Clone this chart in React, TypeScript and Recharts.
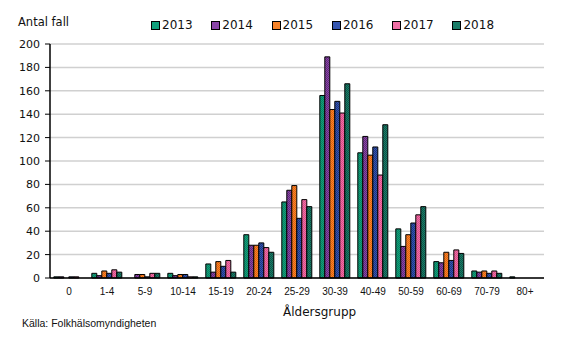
import { BarChart, Bar, XAxis, YAxis, CartesianGrid } from "recharts";

const categories = ["0", "1-4", "5-9", "10-14", "15-19", "20-24", "25-29", "30-39", "40-49", "50-59", "60-69", "70-79", "80+"];

const y2013 = [1, 4, 0, 4, 12, 37, 65, 156, 107, 42, 14, 6, 1];
const y2014 = [1, 2, 3, 2, 5, 28, 75, 189, 121, 27, 13, 5, 0];
const y2015 = [0, 6, 3, 3, 14, 28, 79, 144, 105, 37, 22, 6, 0];
const y2016 = [1, 4, 1, 3, 10, 30, 51, 151, 112, 47, 15, 4, 0];
const y2017 = [1, 7, 4, 1, 15, 26, 67, 141, 88, 54, 24, 6, 0];
const y2018 = [0, 5, 4, 1, 5, 22, 61, 166, 131, 61, 21, 4, 0];

const yTicks = [0, 20, 40, 60, 80, 100, 120, 140, 160, 180, 200];

const series = [
  { key: "2013", values: y2013, color: "#10a07b", dark: "#0b7f60" },
  { key: "2014", values: y2014, color: "#8a45a8", dark: "#5f2b78" },
  { key: "2015", values: y2015, color: "#f7842a", dark: "#e0620e" },
  { key: "2016", values: y2016, color: "#3556b0", dark: "#1d3580" },
  { key: "2017", values: y2017, color: "#f06fa5", dark: "#d84d88" },
  { key: "2018", values: y2018, color: "#1a7d68", dark: "#0e5547" },
];

const data = categories.map((group, i) => {
  const row: any = { group };
  series.forEach((s) => (row[s.key] = s.values[i]));
  return row;
});

function LegendRow() {
  return (
    <div style={{ position: "absolute", left: 151, top: 18, display: "flex" }}>
      {series.map((s) => (
        <div key={s.key} style={{ display: "flex", alignItems: "center", width: 60.3 }}>
          <span
            style={{
              width: 7,
              height: 7,
              background: s.color,
              border: "1px solid #000",
              marginRight: 2,
            }}
          />
          <span style={{ fontFamily: "DejaVu Sans", fontSize: 12, color: "#111" }}>{s.key}</span>
        </div>
      ))}
    </div>
  );
}

export default function App() {
  return (
    <div style={{ position: "absolute", left: 0, top: 0, width: 567, height: 358, background: "#fff" }}>
      <div style={{ position: "absolute", left: 18, top: 15, fontFamily: "DejaVu Sans", fontSize: 11.5, color: "#111" }}>
        Antal fall
      </div>
      <LegendRow />
      <BarChart
        width={567}
        height={358}
        data={data}
        margin={{ top: 44, right: 23, left: 0, bottom: 60 }}
        barCategoryGap="10%"
        barGap={0}
      >
        <defs>
          {series.map((s) => (
            <pattern key={s.key} id={"p" + s.key} width="2" height="2" patternUnits="userSpaceOnUse">
              <rect width="2" height="2" fill={s.color} />
              <rect width="1" height="1" fill={s.dark} />
              <rect x="1" y="1" width="1" height="1" fill={s.dark} />
            </pattern>
          ))}
        </defs>
        <CartesianGrid vertical={false} stroke="#d0d0d0" strokeWidth={1.5} />
        <XAxis
          dataKey="group"
          axisLine={{ stroke: "#000", strokeWidth: 1.5 }}
          tickLine={false}
          tickSize={0}
          tickMargin={10}
          height={20}
          interval={0}
          tick={{ fontFamily: "Liberation Sans", fontSize: 10, fill: "#111" }}
        />
        <YAxis
          width={50}
          domain={[0, 200]}
          ticks={yTicks}
          axisLine={{ stroke: "#000", strokeWidth: 1.5 }}
          tickLine={{ stroke: "#000" }}
          tickSize={5}
          tickMargin={5}
          tick={{ fontFamily: "DejaVu Sans", fontSize: 11, fill: "#111" }}
        />
        {series.map((s) => (
          <Bar
            key={s.key}
            dataKey={s.key}
            fill={`url(#p${s.key})`}
            stroke="#000"
            strokeWidth={1}
            isAnimationActive={false}
          />
        ))}
      </BarChart>
      <div
        style={{
          position: "absolute",
          left: 283,
          top: 305,
          fontFamily: "DejaVu Sans",
          fontSize: 12,
          color: "#111",
        }}
      >
        Åldersgrupp
      </div>
      <div
        style={{
          position: "absolute",
          left: 22,
          top: 317,
          fontFamily: "Liberation Sans",
          fontSize: 10.5,
          color: "#111",
        }}
      >
        Källa: Folkhälsomyndigheten
      </div>
    </div>
  );
}
